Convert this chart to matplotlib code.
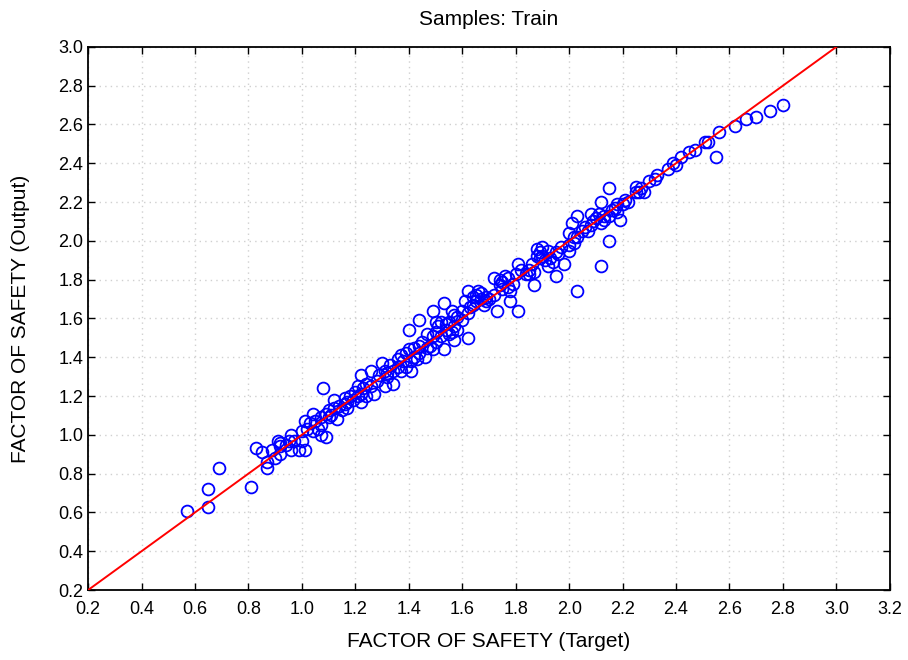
"""
Диаграмма рассеяния: целевые и выходные значения коэффициента запаса (обучающая выборка).
"""
import matplotlib.pyplot as plt

plt.rcParams['font.family'] = ['Liberation Sans', 'DejaVu Sans']

title = "Samples: Train"
x_label = "FACTOR OF SAFETY (Target)"
y_label = "FACTOR OF SAFETY (Output)"

# Целевые значения (Target)
target = [
    0.57, 0.65, 0.65, 0.69, 0.81,
    0.83, 0.85, 0.87, 0.87, 0.89, 0.90, 0.91, 0.92, 0.92, 0.92, 0.94, 0.96, 0.96, 0.95,
    0.97, 0.99, 1.00, 1.01, 1.00, 1.01, 1.02, 1.03, 1.04, 1.04, 1.05, 1.06, 1.07, 1.07,
    1.07, 1.09, 1.10, 1.10, 1.11, 1.12, 1.08, 1.09,
    1.12, 1.13, 1.14, 1.15, 1.16, 1.16, 1.17, 1.17, 1.18, 1.19, 1.20, 1.21, 1.21, 1.22,
    1.22, 1.23, 1.24, 1.24, 1.22,
    1.26, 1.26, 1.27, 1.28, 1.29, 1.30, 1.31, 1.31, 1.32, 1.32, 1.33, 1.34, 1.34, 1.36,
    1.36, 1.37, 1.37, 1.38, 1.39, 1.39, 1.40, 1.41, 1.41, 1.42, 1.42, 1.43, 1.44, 1.44,
    1.45, 1.46, 1.47, 1.47, 1.48, 1.49, 1.49, 1.50, 1.50, 1.51, 1.52, 1.52, 1.53, 1.54,
    1.54, 1.55, 1.55, 1.56, 1.57, 1.57, 1.58, 1.40, 1.44, 1.49, 1.53, 1.56, 1.50, 1.57,
    1.58, 1.60, 1.60, 1.61, 1.62, 1.62, 1.63, 1.64, 1.64, 1.65, 1.65, 1.66, 1.67, 1.67,
    1.68, 1.69, 1.69, 1.70, 1.72, 1.72, 1.73, 1.74, 1.74, 1.75, 1.75, 1.76, 1.77, 1.77,
    1.78, 1.78, 1.79, 1.80, 1.81, 1.81, 1.82, 1.84, 1.62,
    1.85, 1.85, 1.86, 1.87, 1.87, 1.88, 1.88, 1.89, 1.89, 1.90, 1.90, 1.91, 1.92, 1.92,
    1.93, 1.94, 1.95, 1.95, 1.96, 1.97, 1.98, 2.00, 2.00, 2.00, 2.01, 2.02, 2.02, 2.03,
    2.03, 2.03, 2.05, 2.06, 2.07, 2.08, 2.08, 2.09, 2.10, 2.11, 2.12, 2.12, 2.12, 2.13,
    2.13, 2.15, 2.15, 2.16, 2.17, 2.18, 2.18, 2.19, 2.20, 2.21, 2.22, 2.25, 2.25, 2.26,
    2.27, 2.28, 2.15, 2.30, 2.32,
    2.33, 2.37, 2.39, 2.40, 2.42, 2.45, 2.47, 2.51, 2.52, 2.55, 2.56, 2.62, 2.66, 2.70,
    2.75, 2.80,
]

# Выходные значения сети (Output)
output = [
    0.61, 0.72, 0.63, 0.83, 0.73,
    0.93, 0.91, 0.83, 0.86, 0.92, 0.88, 0.97, 0.94, 0.90, 0.96, 0.95, 1.00, 0.92, 0.97,
    0.97, 0.92, 0.97, 0.92, 1.02, 1.07, 1.03, 1.06, 1.11, 1.02, 1.07, 1.03, 1.05, 1.00,
    1.09, 0.99, 1.09, 1.13, 1.10, 1.14, 1.24, 1.11,
    1.18, 1.08, 1.15, 1.13, 1.19, 1.16, 1.14, 1.17, 1.20, 1.18, 1.22, 1.25, 1.20, 1.21,
    1.17, 1.24, 1.20, 1.26, 1.31,
    1.25, 1.33, 1.21, 1.28, 1.31, 1.37, 1.25, 1.33, 1.30, 1.32, 1.36, 1.26, 1.33, 1.39,
    1.35, 1.41, 1.33, 1.38, 1.42, 1.35, 1.44, 1.38, 1.33, 1.40, 1.45, 1.39, 1.46, 1.42,
    1.48, 1.40, 1.45, 1.52, 1.46, 1.51, 1.44, 1.53, 1.48, 1.56, 1.51, 1.58, 1.44, 1.54,
    1.57, 1.52, 1.58, 1.53, 1.56, 1.49, 1.54, 1.54, 1.59, 1.64, 1.68, 1.64, 1.58, 1.62,
    1.61, 1.64, 1.59, 1.69, 1.63, 1.74, 1.66, 1.71, 1.67, 1.72, 1.69, 1.74, 1.70, 1.73,
    1.67, 1.71, 1.69, 1.70, 1.72, 1.81, 1.64, 1.80, 1.77, 1.75, 1.79, 1.82, 1.76, 1.81,
    1.74, 1.69, 1.78, 1.83, 1.88, 1.64, 1.85, 1.83, 1.50,
    1.83, 1.85, 1.88, 1.84, 1.77, 1.96, 1.92, 1.91, 1.94, 1.97, 1.92, 1.90, 1.95, 1.87,
    1.91, 1.89, 1.82, 1.94, 1.93, 1.97, 1.88, 1.98, 1.95, 2.04, 2.09, 2.02, 1.99, 1.74,
    2.13, 2.02, 2.05, 2.07, 2.05, 2.08, 2.14, 2.10, 2.12, 2.14, 2.09, 1.87, 2.20, 2.11,
    2.13, 2.13, 2.00, 2.16, 2.17, 2.15, 2.19, 2.11, 2.19, 2.21, 2.20, 2.25, 2.28, 2.25,
    2.27, 2.25, 2.27, 2.31, 2.32,
    2.34, 2.37, 2.40, 2.39, 2.43, 2.46, 2.47, 2.51, 2.51, 2.43, 2.56, 2.59, 2.63, 2.64,
    2.67, 2.70,
]

# Линия идеального совпадения
ideal_line = [0.2, 3.0]

x_ticks = [0.2, 0.4, 0.6, 0.8, 1.0, 1.2, 1.4, 1.6, 1.8, 2.0, 2.2, 2.4, 2.6, 2.8, 3.0, 3.2]
y_ticks = [0.2, 0.4, 0.6, 0.8, 1.0, 1.2, 1.4, 1.6, 1.8, 2.0, 2.2, 2.4, 2.6, 2.8, 3.0]

fig = plt.figure(figsize=(9.08, 6.60), dpi=100)
ax = fig.add_axes([0.097, 0.106, 0.883, 0.823])

ax.plot(target, output, linestyle='none', marker='o', markersize=8.5,
        markerfacecolor='none', markeredgecolor='#0000ff', markeredgewidth=1.3, zorder=3)
ax.plot(ideal_line, ideal_line, color='#ff0000', linewidth=1.4, zorder=4)

ax.set_xlim(0.2, 3.2)
ax.set_ylim(0.2, 3.0)
ax.set_xticks(x_ticks)
ax.set_yticks(y_ticks)
ax.set_xticklabels([f"{t:.1f}" for t in x_ticks])
ax.set_yticklabels([f"{t:.1f}" for t in y_ticks])
ax.tick_params(direction='in', top=True, right=True, labelsize=13, length=5, width=1)
ax.tick_params(axis='x', pad=8)

ax.grid(True, linestyle=(0, (1, 3)), color='#d0d0d0', linewidth=1)
ax.set_axisbelow(True)
for s in ax.spines.values():
    s.set_linewidth(1.3)

ax.set_title(title, fontsize=15, pad=16)
ax.set_xlabel(x_label, fontsize=15, labelpad=10)
ax.set_ylabel(y_label, fontsize=15, labelpad=20)

plt.savefig("out.png", dpi=100)
